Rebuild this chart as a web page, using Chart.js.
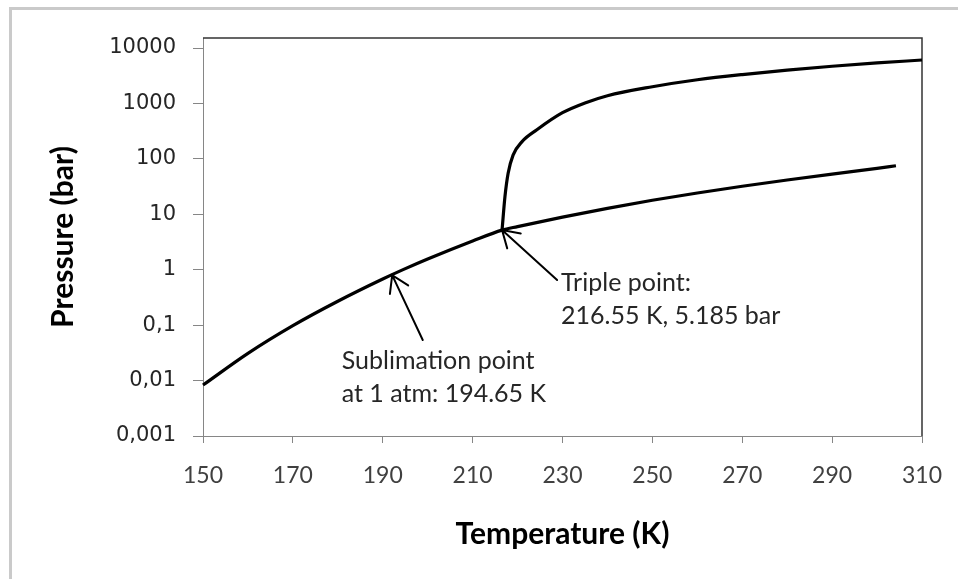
<!DOCTYPE html>
<html>
<head>
<meta charset="utf-8">
<title>CO2 phase diagram</title>
<script src="https://cdn.jsdelivr.net/npm/chart.js@4.4.1/dist/chart.umd.min.js"></script>
<style>
    html, body { margin: 0; padding: 0; background: #fff; }
    #wrap { position: relative; width: 958px; height: 579px; overflow: hidden; }
    #frame {
        position: absolute; left: 9px; top: 7px; right: -10px; bottom: -10px;
        border-top: 3px solid #cacaca; border-left: 3px solid #cacaca;
    }
    #phaseChart { position: absolute; left: 0; top: 0; }
</style>
</head>
<body>
<div id="wrap">
    <div id="frame"></div>
    <canvas id="phaseChart" width="958" height="579"></canvas>
</div>
<script>
// ---- Data ----

// sublimation + vaporisation curve (K, bar)
const lowerTemps = [150, 160, 170, 180, 190, 194.65, 200, 210, 216.55, 220, 230, 240, 250, 260, 270, 280, 290, 300, 304.2];
const lowerPress = [0.0083, 0.031, 0.098, 0.27, 0.68, 1.013, 1.56, 3.3, 5.185, 6.0, 8.9, 12.8, 17.9, 24.2, 32.0, 41.6, 53.2, 67.1, 75];

// melting curve (K, bar)
const meltTemps = [216.55, 217.2, 217.9, 219, 221, 224.3, 230, 235, 240, 250, 260, 270, 280, 290, 300, 310];
const meltPress = [5.185, 21, 55, 117, 205, 335, 680, 1020, 1380, 2000, 2670, 3320, 3990, 4680, 5380, 6070];

// axis ticks
const yTickValues = [0.001, 0.01, 0.1, 1, 10, 100, 1000, 10000];
const yTickLabels = ['0,001', '0,01', '0,1', '1', '10', '100', '1000', '10000'];
const yAxisMax = 15150;

// arrows: tip / tail in data units (K, bar), text offset from the tail in px
const notes = [
    { tip: [192.1, 0.80], tail: [198.9, 0.054], dx: -81, dy: 29, lines: ['Sublimation point', 'at 1 atm: 194.65 K'] },
    { tip: [216.55, 5.185], tail: [228.8, 0.652], dx: 4, dy: 11, lines: ['Triple point:', '216.55 K, 5.185 bar'] },
];

function toPoints(xs, ys) {
    return xs.map((x, i) => ({ x: x, y: ys[i] }));
}

// ---- Plugins ----

// dark top / right edge of the plot box
const plotBox = {
    id: 'plotBox',
    beforeDatasetsDraw(chart) {
        const { ctx, chartArea: a } = chart;
        ctx.save();
        ctx.strokeStyle = '#333';
        ctx.lineWidth = 1.5;
        ctx.beginPath();
        ctx.moveTo(a.left, a.top);
        ctx.lineTo(a.right, a.top);
        ctx.lineTo(a.right, a.bottom);
        ctx.stroke();
        ctx.restore();
    }
};

// arrows with their notes
const arrowNotes = {
    id: 'arrowNotes',
    afterDatasetsDraw(chart) {
        const { ctx, scales } = chart;
        ctx.save();
        notes.forEach(n => {
            const tx = scales.x.getPixelForValue(n.tip[0]);
            const ty = scales.y.getPixelForValue(n.tip[1]);
            const ex = scales.x.getPixelForValue(n.tail[0]);
            const ey = scales.y.getPixelForValue(n.tail[1]);
            const ang = Math.atan2(ey - ty, ex - tx);
            const wing = 19, spread = 0.56;

            ctx.strokeStyle = '#000';
            ctx.lineWidth = 2;
            ctx.lineCap = 'round';
            ctx.beginPath();
            ctx.moveTo(ex, ey);
            ctx.lineTo(tx, ty);
            ctx.moveTo(tx + wing * Math.cos(ang - spread), ty + wing * Math.sin(ang - spread));
            ctx.lineTo(tx, ty);
            ctx.lineTo(tx + wing * Math.cos(ang + spread), ty + wing * Math.sin(ang + spread));
            ctx.stroke();

            ctx.fillStyle = '#262626';
            ctx.font = '25px Lato';
            ctx.textAlign = 'left';
            ctx.textBaseline = 'alphabetic';
            n.lines.forEach((line, i) => {
                ctx.fillText(line, ex + n.dx, ey + n.dy + i * 33);
            });
        });
        ctx.restore();
    }
};

// ---- Chart ----

const lineStyle = {
    borderColor: '#000',
    borderWidth: 3.2,
    pointRadius: 0,
    fill: false,
    cubicInterpolationMode: 'monotone',
    clip: false,
};

new Chart(document.getElementById('phaseChart'), {
    type: 'line',
    data: {
        datasets: [
            Object.assign({ label: 'sublimation / vaporisation', data: toPoints(lowerTemps, lowerPress) }, lineStyle),
            Object.assign({ label: 'melting', data: toPoints(meltTemps, meltPress) }, lineStyle),
        ]
    },
    options: {
        responsive: false,
        animation: false,
        devicePixelRatio: 1,
        layout: { padding: { top: 38, right: 36, bottom: 0, left: 0 } },
        plugins: {
            legend: { display: false },
            tooltip: { enabled: false },
        },
        scales: {
            x: {
                type: 'linear',
                min: 150,
                max: 310,
                ticks: {
                    stepSize: 20,
                    maxRotation: 0,
                    color: '#404040',
                    font: { family: 'Lato', size: 23 },
                    padding: 19,
                },
                grid: { drawOnChartArea: false, tickLength: 7, tickColor: '#868686' },
                border: { color: '#868686', width: 1 },
                title: {
                    display: true,
                    text: 'Temperature (K)',
                    color: '#000',
                    font: { family: 'Lato', size: 30, weight: 'bold' },
                    padding: { top: 0, bottom: 27 },
                },
                afterFit: s => { s.height = 143; s.paddingLeft = 0; s.paddingRight = 0; },
            },
            y: {
                type: 'logarithmic',
                min: 0.001,
                max: yAxisMax,
                bounds: 'data',
                afterBuildTicks: s => { s.ticks = yTickValues.map(v => ({ value: v })); },
                ticks: {
                    autoSkip: false,
                    color: '#262626',
                    font: { family: 'DejaVu Sans', size: 21 },
                    padding: 17,
                    callback: (v, i) => yTickLabels[i],
                },
                grid: { drawOnChartArea: false, tickLength: 10, tickColor: '#868686' },
                border: { color: '#868686', width: 1 },
                title: {
                    display: true,
                    text: 'Pressure (bar)',
                    color: '#000',
                    font: { family: 'Lato', size: 30, weight: 'bold' },
                    padding: { top: 45, bottom: 0 },
                },
                afterFit: s => { s.width = 203; s.paddingTop = 0; s.paddingBottom = 0; },
            }
        }
    },
    plugins: [plotBox, arrowNotes]
});
</script>
</body>
</html>
